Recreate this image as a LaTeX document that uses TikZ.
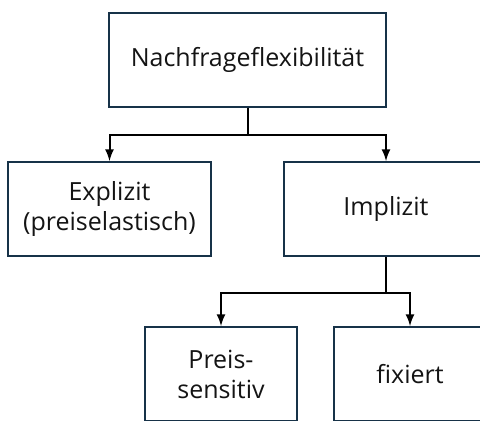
\documentclass[tikz,border=0pt]{standalone}
\usepackage{fontspec}
\setmainfont{Open Sans}
\usepackage{tikz}
\usetikzlibrary{arrows}
\definecolor{boxline}{RGB}{23, 50, 72}
\definecolor{textgray}{RGB}{20, 20, 20}

\begin{document}
\begin{tikzpicture}[x=0.5pt, y=-0.5pt,
            kasten/.style={draw=boxline, line width=1pt, fill=white, text=textgray, align=center,
                           minimum height=47pt, inner sep=0pt, font=\fontsize{12.5}{15}\selectfont},
            pfeil/.style={draw=black, line width=1pt, -latex}]
            \useasboundingbox (0,0) rectangle (480,420);
            \clip (0,0) rectangle (480,420);
            \node[kasten, minimum width=138.5pt] (nachfrage) at (247.5, 59.5) {Nachfrageflexibilität};
            \node[kasten, minimum width=101.5pt] (explizit)  at (109.5,209.0) {Explizit\\(preiselastisch)};
            \node[kasten, minimum width=102.0pt] (implizit)  at (386.0,209.0) {Implizit};
            \node[kasten, minimum width= 76.0pt] (preis)     at (221.0,374.0) {Preis-\\sensitiv};
            \node[kasten, minimum width= 76.0pt] (fixiert)   at (410.0,374.0) {fixiert};
            \draw[pfeil] (nachfrage.south) -- ++(0,27) -| (explizit.north);
            \draw[pfeil] (nachfrage.south) -- ++(0,27) -| (implizit.north);
            \draw[pfeil] (implizit.south)  -- ++(0,36) -| (preis.north);
            \draw[pfeil] (implizit.south)  -- ++(0,36) -| (fixiert.north);
\end{tikzpicture}
\end{document}
